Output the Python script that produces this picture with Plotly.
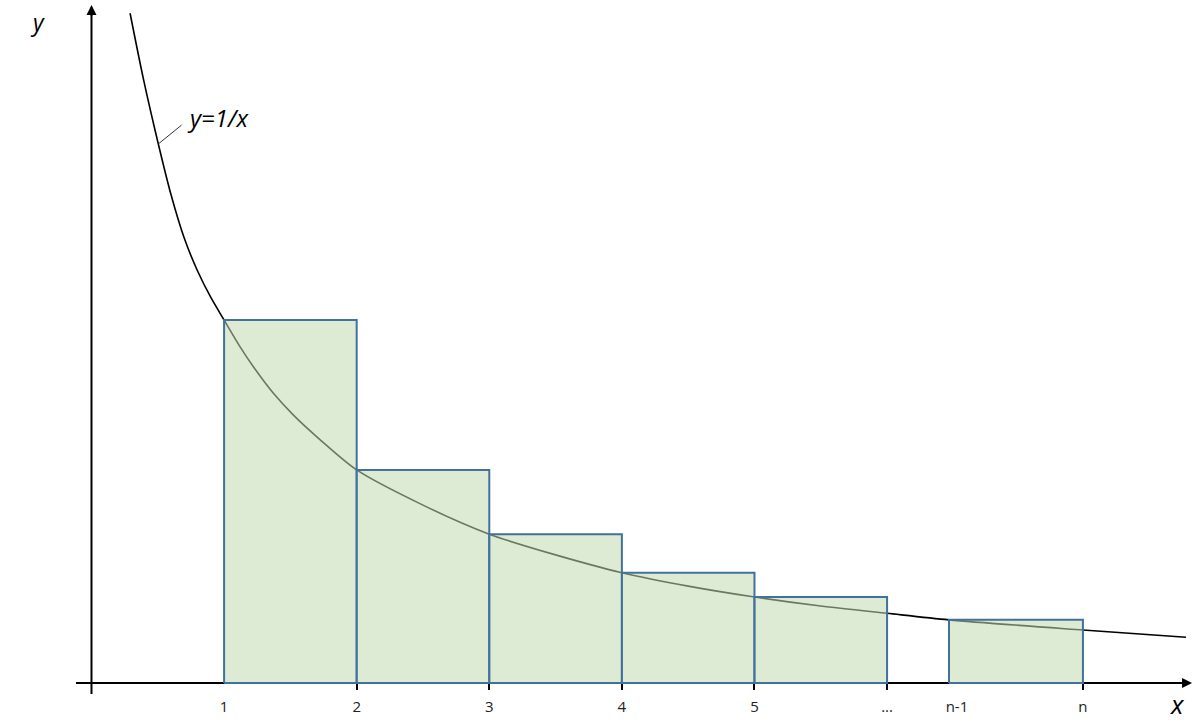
import plotly.graph_objects as go

# ---- data ----
curve_x = [0.291, 0.391, 0.504, 0.600, 0.700, 0.800, 0.900, 1.0, 1.121, 1.221, 1.372, 1.523, 1.725,
           2.0, 2.5, 3.0, 3.5, 4.0, 4.5, 5.0, 5.5, 6.0, 6.467, 7.477, 8.254]
curve_y = [1.845, 1.665, 1.485, 1.345, 1.225, 1.135, 1.062, 1.0, 0.926, 0.871, 0.798, 0.738, 0.670,
           0.587, 0.490, 0.410, 0.353, 0.304, 0.267, 0.237, 0.212, 0.192, 0.174, 0.146, 0.126]

bar_left = [1, 2, 3, 4, 5, 6.467]
bar_right = [2, 3, 4, 5, 6.0, 7.477]
bar_height = [1.0, 0.587, 0.410, 0.304, 0.237, 0.174]

tick_pos = [1, 2, 3, 4, 5, 6.0, 6.527, 7.477]
tick_text = ["1", "2", "3", "4", "5", "...", "n-1", "n"]
tick_mark_pos = [2, 3, 4, 5, 6.0, 7.477]

curve_label = "y=1/x"
x_label = "x"
y_label = "y"

# ---- figure ----
X0, X1 = -0.690, 8.360
Y0, Y1 = -0.1074, 1.8815
FONT = "Open Sans"

fig = go.Figure()
fig.add_trace(go.Scatter(x=curve_x, y=curve_y, mode="lines",
                         line=dict(color="black", width=1.6, shape="spline", smoothing=0.8),
                         hoverinfo="skip"))
for l, r, h in zip(bar_left, bar_right, bar_height):
    fig.add_trace(go.Scatter(x=[l, l, r, r, l], y=[0, h, h, 0, 0], mode="lines",
                             fill="toself", fillcolor="rgba(193,219,177,0.55)",
                             line=dict(color="#41719C", width=2), hoverinfo="skip"))
# invisible helper trace for the tick-mark axis
fig.add_trace(go.Scatter(x=[tick_mark_pos[0]], y=[0], xaxis="x2", mode="markers",
                         marker=dict(opacity=0), hoverinfo="skip"))

fig.update_layout(
    width=1200, height=722, margin=dict(l=0, r=0, t=0, b=0),
    paper_bgcolor="white", plot_bgcolor="white", showlegend=False,
    xaxis=dict(range=[X0, X1], showgrid=False, zeroline=False, showline=False,
               tickmode="array", tickvals=tick_pos, ticktext=tick_text,
               ticks="outside", ticklen=10, tickcolor="rgba(0,0,0,0)",
               anchor="free", position=39 / 722,
               tickfont=dict(family=FONT, size=15, color="#222")),
    xaxis2=dict(range=[X0, X1], overlaying="x", showgrid=False, zeroline=False,
                showline=False, tickmode="array", tickvals=tick_mark_pos,
                showticklabels=False, ticks="outside", ticklen=6, tickwidth=1.5,
                tickcolor="black", anchor="free", position=39 / 722),
    yaxis=dict(range=[Y0, Y1], visible=False),
)

# axis lines (below traces)
fig.add_shape(type="line", xref="x", yref="y", x0=0, x1=0, y0=-0.0303, y1=1.84,
              line=dict(color="black", width=2), layer="below")
fig.add_shape(type="line", xref="x", yref="y", x0=-0.117, x1=8.224, y0=0, y1=0,
              line=dict(color="black", width=2), layer="below")
# arrow heads
fig.add_annotation(x=0, y=1.868, xref="x", yref="y", ax=0, ay=12, text="",
                   showarrow=True, arrowhead=2, arrowwidth=2, arrowsize=1, arrowcolor="black")
fig.add_annotation(x=8.30, y=0, xref="x", yref="y", ax=-12, ay=0, text="",
                   showarrow=True, arrowhead=2, arrowwidth=2, arrowsize=1, arrowcolor="black")
# leader line for the curve label
fig.add_annotation(x=0.504, y=1.485, xref="x", yref="y", ax=0.690, ay=1.540,
                   axref="x", ayref="y", text="", showarrow=True, arrowhead=0,
                   arrowwidth=1, arrowcolor="#333")
# texts
fig.add_annotation(x=0.954, y=1.559, xref="x", yref="y", text="<i>" + curve_label + "</i>",
                   showarrow=False, font=dict(family=FONT, size=24, color="black"))
fig.add_annotation(x=-0.407, y=1.822, xref="x", yref="y", text="<i>" + y_label + "</i>",
                   showarrow=False, font=dict(family=FONT, size=23, color="black"))
fig.add_annotation(x=8.194, y=-0.057, xref="x", yref="y", text="<i>" + x_label + "</i>",
                   showarrow=False, font=dict(family=FONT, size=26, color="black"))

fig.write_html("out.html", config={"displayModeBar": False},
               post_script="document.body.style.margin='0px';document.body.style.overflow='hidden';")
